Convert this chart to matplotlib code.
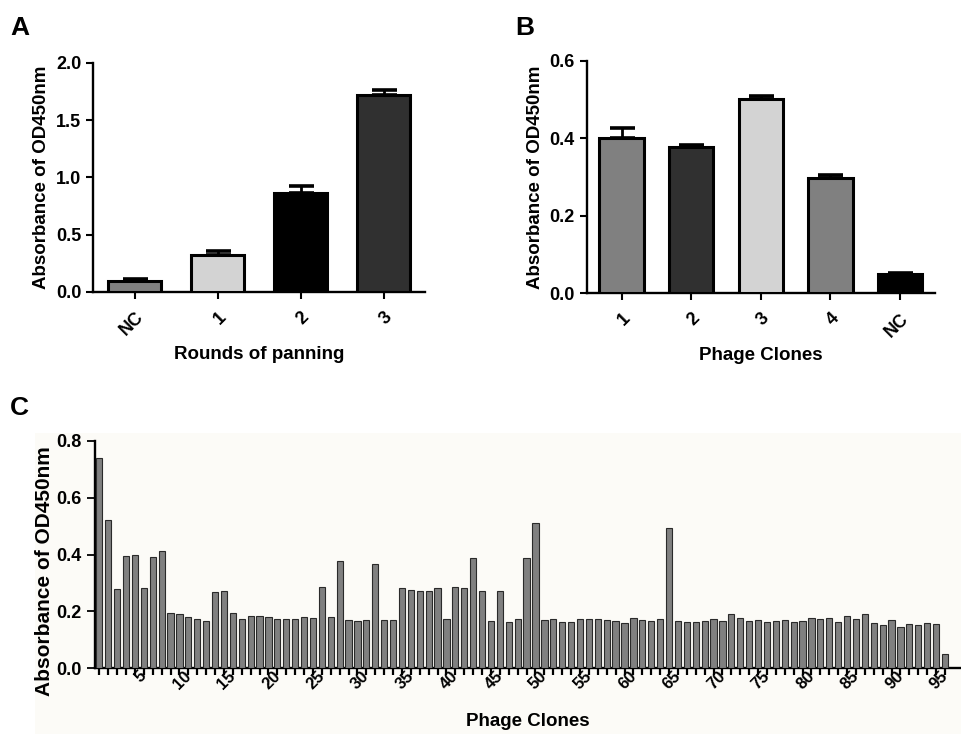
import matplotlib
matplotlib.use("Agg")
import matplotlib.pyplot as plt
import matplotlib.patches as mpatches
import matplotlib.transforms as mtrans
import numpy as np

plt.rcParams.update({
    "font.family": ["Liberation Sans", "DejaVu Sans"],
    "font.weight": "bold",
    "axes.linewidth": 1.7,
})

# panel A
rondas = ["NC", "1", "2", "3"]
abs_rondas = [0.096, 0.323, 0.863, 1.718]
err_rondas = [0.014, 0.035, 0.061, 0.044]
col_rondas = ["#808080", "#d3d3d3", "#000000", "#303030"]

# panel B
clones = ["1", "2", "3", "4", "NC"]
abs_clones = [0.400, 0.379, 0.502, 0.297, 0.049]
err_clones = [0.028, 0.005, 0.008, 0.009, 0.004]
col_clones = ["#808080", "#303030", "#d3d3d3", "#808080", "#000000"]

# panel C: 96 clones
abs_c = [0.738, 0.521, 0.279, 0.395, 0.398, 0.281, 0.391, 0.413, 0.196, 0.191,
         0.182, 0.173, 0.165, 0.268, 0.273, 0.196, 0.173, 0.183, 0.184, 0.182,
         0.172, 0.172, 0.172, 0.180, 0.177, 0.287, 0.180, 0.377, 0.171, 0.167,
         0.171, 0.365, 0.169, 0.170, 0.281, 0.275, 0.273, 0.273, 0.281, 0.172,
         0.285, 0.281, 0.389, 0.271, 0.165, 0.273, 0.163, 0.172, 0.388, 0.511,
         0.169, 0.175, 0.163, 0.163, 0.172, 0.175, 0.172, 0.171, 0.167, 0.160,
         0.176, 0.170, 0.165, 0.173, 0.494, 0.165, 0.162, 0.163, 0.167, 0.172,
         0.165, 0.191, 0.176, 0.165, 0.169, 0.163, 0.165, 0.169, 0.162, 0.167,
         0.176, 0.175, 0.176, 0.163, 0.184, 0.172, 0.192, 0.158, 0.153, 0.171,
         0.146, 0.156, 0.153, 0.158, 0.155, 0.049]

CREMA = "#fcfbf7"

fig = plt.figure(figsize=(9.61, 7.34), dpi=100)
fig.patches.append(mpatches.Rectangle((35/961, 0), 1 - 35/961, 0.41, transform=fig.transFigure,
                                      facecolor=CREMA, edgecolor="none", zorder=-5))


def _panel(ax, etiquetas, valores, errores, colores, ymax, paso, xlabel):
    x = np.arange(len(valores))
    ax.bar(x, valores, width=0.64, color=colores, edgecolor="black", linewidth=2.2, zorder=3)
    ax.errorbar(x, valores, yerr=[np.zeros(len(errores)), errores], fmt="none",
                ecolor="black", elinewidth=2.0, capsize=9, capthick=2.6, zorder=2)
    ax.set_xlim(-0.5, len(valores) - 0.5)
    ax.set_ylim(0, ymax)
    ax.set_yticks(np.arange(0, ymax + paso / 2, paso))
    ax.yaxis.set_major_formatter(matplotlib.ticker.FormatStrFormatter("%.1f"))
    ax.set_xticks(x)
    ax.set_xticklabels(etiquetas, rotation=45, ha="right", rotation_mode="anchor", fontsize=13)
    ax.tick_params(axis="y", labelsize=13, length=5, width=1.5)
    ax.tick_params(axis="x", length=5, width=1.5, pad=7)
    for s in ["top", "right"]:
        ax.spines[s].set_visible(False)
    ax.set_ylabel("Absorbance of OD450nm", fontsize=13.5, fontweight="bold")
    ax.set_xlabel(xlabel, fontsize=13.5, fontweight="bold", labelpad=5)


axA = fig.add_axes([0.0968, 0.6022, 0.3455, 0.3124])
_panel(axA, rondas, abs_rondas, err_rondas, col_rondas, 2.0, 0.5, "Rounds of panning")

axB = fig.add_axes([0.6105, 0.6004, 0.3624, 0.3165])
_panel(axB, clones, abs_clones, err_clones, col_clones, 0.6, 0.2, "Phage Clones")

axC = fig.add_axes([0.0989, 0.0895, 0.9011, 0.3101])
axC.set_facecolor(CREMA)
xc = np.arange(1, len(abs_c) + 1)
axC.bar(xc, abs_c, width=0.7, color="#808080", edgecolor="#2a2a2a", linewidth=0.8, zorder=3)
axC.set_xlim(0.52, 97.8)
axC.set_ylim(0, 0.8)
axC.set_yticks([0, 0.2, 0.4, 0.6, 0.8])
axC.yaxis.set_major_formatter(matplotlib.ticker.FormatStrFormatter("%.1f"))
axC.set_xticks(xc)
axC.set_xticklabels([str(i) if i % 5 == 0 else "" for i in xc], rotation=45, ha="right",
                    rotation_mode="anchor", fontsize=12)
axC.tick_params(axis="x", length=5, width=1.6, pad=-5, color="black")
axC.tick_params(axis="y", labelsize=13, length=6, width=1.3)
desplaza = mtrans.ScaledTranslation(4/100, 0, fig.dpi_scale_trans)
for lab in axC.get_xticklabels():
    lab.set_transform(lab.get_transform() + desplaza)
for s in ["top", "right"]:
    axC.spines[s].set_visible(False)
axC.set_ylabel("Absorbance of OD450nm", fontsize=15, fontweight="bold", va="center")
axC.yaxis.set_label_coords(-0.0578, 0.427)
axC.set_xlabel("Phage Clones", fontsize=13.5, fontweight="bold", va="center")
axC.xaxis.set_label_coords(0.5, -0.2346)

fig.text(10/961, 1 - 35/734, "A", fontsize=19, fontweight="bold")
fig.text(515/961, 1 - 35/734, "B", fontsize=19, fontweight="bold")
fig.text(10/961, 1 - 415/734, "C", fontsize=19, fontweight="bold")

fig.savefig("out.png", dpi=100, facecolor="white")
